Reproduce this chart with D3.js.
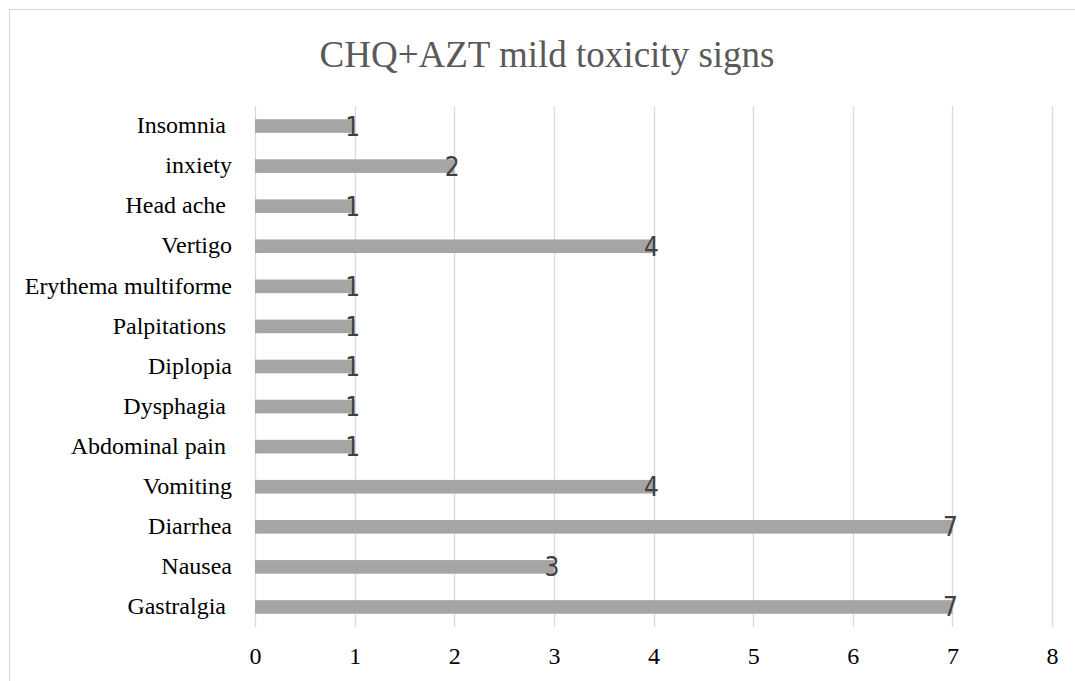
<!DOCTYPE html>
<html>
<head>
<meta charset="utf-8">
<script src="https://cdn.jsdelivr.net/npm/d3@7"></script>
<style>
html,body{margin:0;padding:0;background:#fff;overflow:hidden;}
svg{display:block;}
</style>
</head>
<body>
<svg id="chart" width="1075" height="681"></svg>
<script>
// Data (top to bottom as displayed)
const categories = ["Insomnia ", "inxiety", "Head ache ", "Vertigo", "Erythema multiforme", "Palpitations ", "Diplopia", "Dysphagia ", "Abdominal pain ", "Vomiting", "Diarrhea", "Nausea", "Gastralgia "];
const values = [1, 2, 1, 4, 1, 1, 1, 1, 1, 4, 7, 3, 7];
const xTicks = [0, 1, 2, 3, 4, 5, 6, 7, 8];
const titleText = "CHQ+AZT mild toxicity signs";

const svg = d3.select("#chart");

// chart border (right/bottom extend beyond view)
svg.append("rect").attr("x", 9.5).attr("y", 9.5).attr("width", 1100).attr("height", 700)
  .attr("fill", "#fff").attr("stroke", "#d9d9d9").attr("stroke-width", 1.2);

const x = d3.scaleLinear().domain([0, 8]).range([255, 1052]);
const y = d3.scaleBand().domain(categories).range([106, 627]).paddingInner(0.66).paddingOuter(0.33);

// gridlines
svg.append("g").selectAll("line").data(xTicks).join("line")
  .attr("x1", d => Math.round(x(d)) + 0.5).attr("x2", d => Math.round(x(d)) + 0.5)
  .attr("y1", 106).attr("y2", 627)
  .attr("stroke", "#d9d9d9").attr("stroke-width", 1.3);

// x axis tick labels via d3 axis
const xAxis = d3.axisBottom(x).tickValues(xTicks).tickFormat(d3.format("d")).tickSize(0).tickPadding(0);
const gx = svg.append("g").attr("transform", "translate(0,647)").call(xAxis);
gx.select(".domain").remove();
gx.selectAll("text").attr("font-family", "'Liberation Serif', 'Times New Roman', serif")
  .attr("font-size", 24).attr("fill", "#000").attr("dy", "0.71em");

// y axis labels
const yAxis = d3.axisLeft(y).tickSize(0).tickPadding(0);
const gy = svg.append("g").attr("transform", "translate(232,0)").call(yAxis);
gy.select(".domain").remove();
gy.selectAll("text").attr("font-family", "'Liberation Serif', 'Times New Roman', serif")
  .attr("font-size", 24).attr("fill", "#000").attr("dy", "0.3em")
  .style("white-space", "pre").attr("xml:space", "preserve");

// bars
svg.append("g").selectAll("rect").data(categories).join("rect")
  .attr("x", x(0)).attr("y", d => y(d))
  .attr("width", (d, i) => x(values[i]) - x(0))
  .attr("height", y.bandwidth())
  .attr("fill", "#a5a5a5");

// data labels
svg.append("g").selectAll("text").data(categories).join("text")
  .attr("x", (d, i) => x(values[i]) - 2)
  .attr("y", d => y(d) + y.bandwidth() / 2 + 9.5)
  .attr("text-anchor", "middle")
  .attr("font-family", "'DejaVu Sans Condensed', 'DejaVu Sans', sans-serif")
  .style("font-stretch", "condensed")
  .attr("font-size", 26).attr("fill", "#404040")
  .text((d, i) => values[i]);

// title
svg.append("text").attr("x", 547).attr("y", 66.5).attr("text-anchor", "middle")
  .attr("font-family", "'Liberation Serif', 'Times New Roman', serif")
  .attr("font-size", 37).attr("fill", "#595959").text(titleText);
</script>
</body>
</html>
